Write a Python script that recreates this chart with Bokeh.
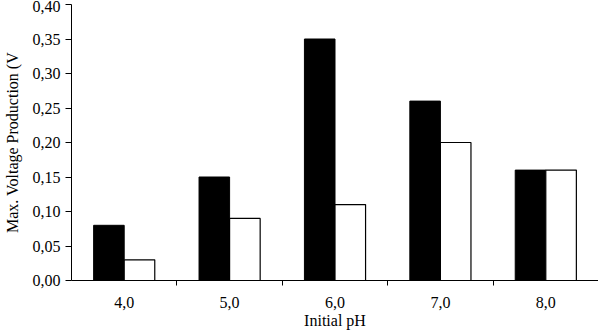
from bokeh.plotting import figure
from bokeh.models import Range1d, FixedTicker, CustomJSTickFormatter, ColumnDataSource
from bokeh.embed import file_html
from bokeh.resources import INLINE

ph_labels = ["4,0", "5,0", "6,0", "7,0", "8,0"]
black_vals = [0.08, 0.15, 0.35, 0.26, 0.16]
white_vals = [0.03, 0.09, 0.11, 0.20, 0.16]
y_ticks = [0.00, 0.05, 0.10, 0.15, 0.20, 0.25, 0.30, 0.35, 0.40]

FONT = "Liberation Serif"
n = len(ph_labels)
centers = [i + 0.5 for i in range(n)]
bw = 0.29

p = figure(width=598, height=334, output_backend="svg", toolbar_location=None,
           x_range=Range1d(0, n), y_range=Range1d(0, 0.40))
p.min_border_left = 71
p.min_border_right = 0
p.min_border_top = 4
p.min_border_bottom = 54
p.outline_line_color = None
p.background_fill_color = "white"
p.border_fill_color = "white"
p.xgrid.visible = False
p.ygrid.visible = False

src_b = ColumnDataSource(dict(x=[c - bw / 2 for c in centers], top=black_vals))
src_w = ColumnDataSource(dict(x=[c + bw / 2 for c in centers], top=white_vals))
p.vbar(x="x", top="top", width=bw, bottom=0, source=src_b,
       fill_color="black", line_color="black", line_width=1)
p.vbar(x="x", top="top", width=bw, bottom=0, source=src_w,
       fill_color="white", line_color="black", line_width=1.2)

# x axis
xa = p.xaxis[0]
xa.ticker = FixedTicker(ticks=centers, minor_ticks=[1, 2, 3, 4])
xa.major_label_overrides = {c: lab for c, lab in zip(centers, ph_labels)}
xa.major_tick_line_color = None
xa.major_tick_out = 5
xa.major_tick_in = 0
xa.minor_tick_line_color = "black"
xa.minor_tick_out = 5
xa.minor_tick_in = 0
xa.axis_line_color = "black"
xa.major_label_standoff = 11
xa.major_label_text_font = FONT
xa.major_label_text_font_size = "16px"
xa.major_label_text_color = "black"
xa.axis_label = "Initial pH"
xa.axis_label_text_font = FONT
xa.axis_label_text_font_style = "normal"
xa.axis_label_text_font_size = "16px"
xa.axis_label_text_color = "black"
xa.axis_label_standoff = 1

# y axis
ya = p.yaxis[0]
ya.ticker = FixedTicker(ticks=y_ticks, minor_ticks=[])
ya.formatter = CustomJSTickFormatter(code="return tick.toFixed(2).replace('.', ',');")
ya.major_tick_out = 6
ya.major_tick_in = 0
ya.major_tick_line_color = "black"
ya.minor_tick_line_color = None
ya.axis_line_color = "black"
ya.major_label_standoff = 5
ya.major_label_text_font = FONT
ya.major_label_text_font_size = "16px"
ya.major_label_text_color = "black"
ya.axis_label = "Max. Voltage Production (V"
ya.axis_label_text_font = FONT
ya.axis_label_text_font_style = "normal"
ya.axis_label_text_font_size = "16px"
ya.axis_label_text_color = "black"
ya.axis_label_standoff = 9

open("out.html", "w").write(file_html(p, INLINE))
